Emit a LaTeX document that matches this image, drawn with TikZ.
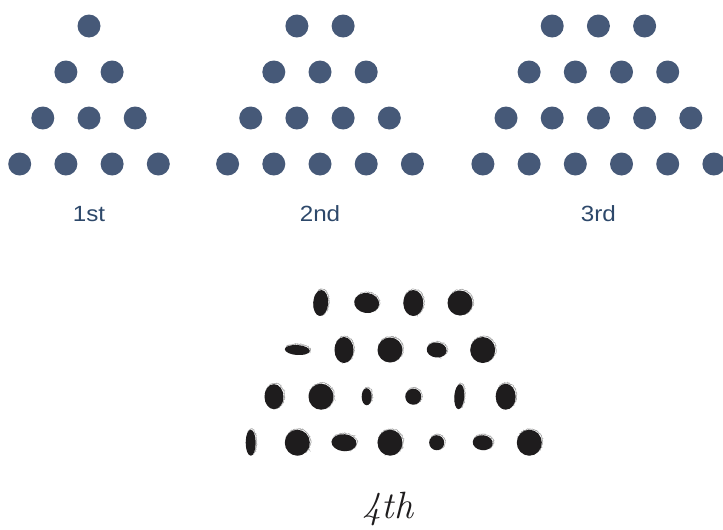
\documentclass[tikz,border=0pt]{standalone}
\usepackage{fontspec}
\usepackage{tikz}
\usetikzlibrary{decorations.pathmorphing}
\setsansfont{Liberation Sans}
\definecolor{dotblue}{RGB}{70, 89, 120}
\definecolor{labelblue}{RGB}{45, 72, 106}
\definecolor{ink}{RGB}{30, 28, 29}

\tikzset{
    dot/.style={fill=dotblue},
    stagelabel/.style={text=labelblue, font=\sffamily\fontsize{22}{24}\selectfont, anchor=base, xscale=1.1},
    fuzz/.style={draw=gray!70, line width=0.6pt, decorate, decoration={random steps, segment length=0.7pt, amplitude=0.6pt}},
    inkfill/.style={fill=ink}
}

% hand-drawn blot: x, y, x radius, y radius, tilt
\newcommand{\blot}[5]{%
    \draw[fuzz, rotate around={#5:(#1+0.8,#2-0.8)}] (#1+0.8,#2-0.8) ellipse ({#3} and {#4});
    \fill[inkfill, rotate around={#5:(#1,#2)}] (#1,#2) ellipse ({#3} and {#4});
}

\begin{document}
\begin{tikzpicture}[x=1pt, y=-1pt]
    \useasboundingbox (0,0) rectangle (723,530);

    % the three printed triangles
    \foreach \n/\cx/\name in {1/89/1st, 2/320/2nd, 3/598.4/3rd} {
        \foreach \r in {0,...,3} {
            \pgfmathtruncatemacro{\k}{\n+\r}
            \foreach \i in {1,...,\k} {
                \fill[dot] ({\cx + (\i - (\k+1)/2)*46.2}, {26 + 46*\r}) circle (11.5);
            }
        }
        \node[stagelabel] (lbl\n) at (\cx, 221) {\name};
    }

    % the fourth, drawn by hand
    \blot{320.7}{303}{7.5}{13}{-4}
    \blot{366.7}{303}{12.5}{10}{-8}
    \blot{413.3}{303}{10}{13}{0}
    \blot{460}{303}{12.5}{12.5}{0}

    \blot{297.3}{350}{12.5}{5}{-4}
    \blot{344}{350}{9.5}{13}{0}
    \blot{390}{350}{12.5}{12.5}{0}
    \blot{436.7}{350}{10}{7.5}{-6}
    \blot{482.7}{350}{12.5}{13}{0}

    \blot{274}{396.7}{9.5}{12.5}{0}
    \blot{321}{396.7}{12.5}{13}{0}
    \blot{366.7}{396.7}{5}{8.5}{0}
    \blot{413.3}{396.7}{8}{8}{0}
    \blot{459.3}{396.7}{5}{12.5}{-4}
    \blot{505.7}{396.7}{10}{13}{0}

    \blot{250.7}{442.7}{5}{13}{0}
    \blot{297.3}{442.7}{12.5}{13}{0}
    \blot{344}{442.7}{12.5}{8.5}{-5}
    \blot{390}{442.7}{12.5}{13}{0}
    \blot{436.7}{442.7}{7.5}{7.5}{0}
    \blot{482.7}{442.7}{10}{7.5}{-6}
    \blot{529.3}{442.7}{12.5}{13}{0}

    \node[text=ink, font=\itshape\fontsize{38}{40}\selectfont, anchor=base] (lbl4) at (388, 518) {4th};
\end{tikzpicture}
\end{document}
